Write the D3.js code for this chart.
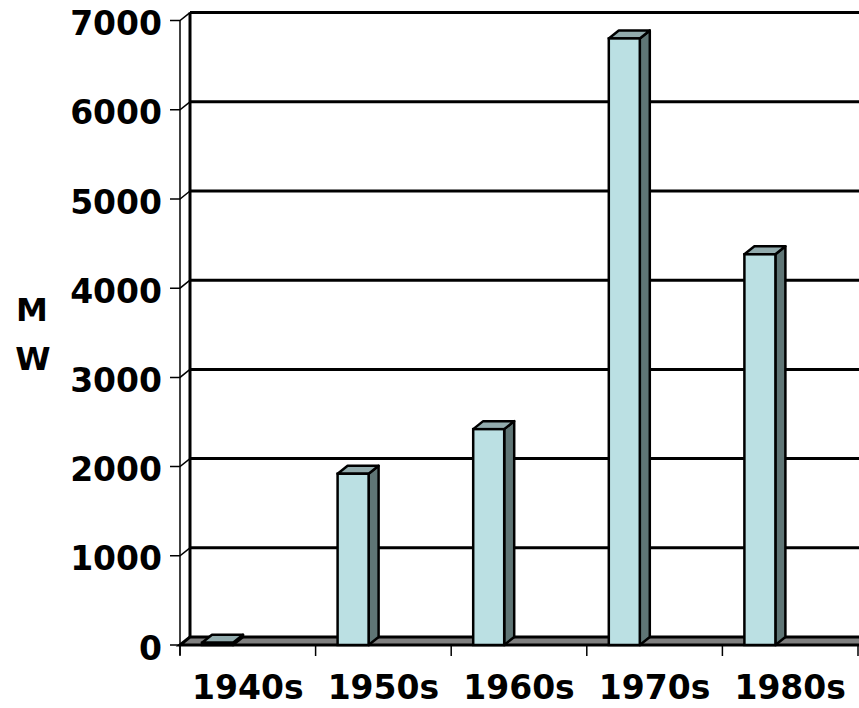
<!DOCTYPE html>
<html>
<head>
<meta charset="utf-8">
<script src="https://cdn.jsdelivr.net/npm/d3@7"></script>
<style>
  body { margin: 0; background: #fff; }
  text { font-family: "DejaVu Sans", Verdana, sans-serif; font-weight: bold; fill: #000; }
</style>
</head>
<body>
<script>
const decades = ["1940s", "1950s", "1960s", "1970s", "1980s"];
const megawatts = [25, 1920, 2420, 6800, 4380];
const yTicks = [0, 1000, 2000, 3000, 4000, 5000, 6000, 7000];

const width = 859, height = 708;
const dx = 10, dy = 8; // depth of the 3d box

const svg = d3.select("body").append("svg")
  .attr("width", width)
  .attr("height", height);

const x = d3.scaleBand().domain(decades).range([180, 858]);
const y = d3.scaleLinear().domain([0, 7000]).range([645, 20.6]);

const x0 = x.range()[0], x1 = width + 20;

// back wall gridlines + side wall diagonals + ticks
yTicks.forEach(t => {
  const yf = y(t);
  if (t > 0) {
    svg.append("line")
      .attr("x1", x0 + dx).attr("x2", x1)
      .attr("y1", yf - dy).attr("y2", yf - dy)
      .attr("stroke", "#000").attr("stroke-width", 3);
  }
  svg.append("path")
    .attr("d", `M${x0 - 10},${yf}H${x0}L${x0 + dx},${yf - dy}`)
    .attr("fill", "none").attr("stroke", "#000").attr("stroke-width", 1.5);
  svg.append("text")
    .attr("x", 162).attr("y", yf + 3)
    .attr("text-anchor", "end")
    .attr("dominant-baseline", "central")
    .attr("font-size", 33)
    .text(t);
});

// back wall left edge and front axis line
svg.append("line")
  .attr("x1", x0 + dx).attr("x2", x0 + dx)
  .attr("y1", y(7000) - dy).attr("y2", y(0) - dy)
  .attr("stroke", "#000").attr("stroke-width", 3);
svg.append("line")
  .attr("x1", x0).attr("x2", x0)
  .attr("y1", y(7000)).attr("y2", y(0) + 10)
  .attr("stroke", "#000").attr("stroke-width", 1.5);

// floor
svg.append("path")
  .attr("d", `M${x0},${y(0)}L${x0 + dx},${y(0) - dy}H${x1}V${y(0)}Z`)
  .attr("fill", "#808080").attr("stroke", "#000").attr("stroke-width", 3);

// category ticks
d3.range(decades.length + 1).forEach(i => {
  const tx = x0 + i * x.step();
  svg.append("line")
    .attr("x1", tx).attr("x2", tx)
    .attr("y1", y(0)).attr("y2", y(0) + 11)
    .attr("stroke", "#000").attr("stroke-width", 1.5);
});

// bars
const bw = 31;
const bars = svg.selectAll("g.bar").data(decades).join("g").attr("class", "bar");
bars.each(function(d, i) {
  const g = d3.select(this);
  const bx = x(d) + 22;
  const top = y(megawatts[i]), base = y(0);
  g.append("path") // side
    .attr("d", `M${bx + bw},${base}V${top}L${bx + bw + dx},${top - dy}V${base - dy}Z`)
    .attr("fill", "#5f7575").attr("stroke", "#000").attr("stroke-width", 2.5).attr("stroke-linejoin", "round");
  g.append("path") // top
    .attr("d", `M${bx},${top}L${bx + dx},${top - dy}H${bx + bw + dx}L${bx + bw},${top}Z`)
    .attr("fill", "#92abad").attr("stroke", "#000").attr("stroke-width", 2.5).attr("stroke-linejoin", "round");
  g.append("rect") // front
    .attr("x", bx).attr("y", top)
    .attr("width", bw).attr("height", base - top)
    .attr("fill", "#bbe0e3").attr("stroke", "#000").attr("stroke-width", 2.5);
});

// category labels
svg.selectAll("text.cat").data(decades).join("text")
  .attr("class", "cat")
  .attr("x", d => x(d) + x.bandwidth() / 2)
  .attr("y", 699)
  .attr("text-anchor", "middle")
  .attr("font-size", 33)
  .text(d => d);

// axis title, stacked letters
svg.append("text").attr("x", 32).attr("y", 321).attr("text-anchor", "middle").attr("font-size", 32).text("M");
svg.append("text").attr("x", 33).attr("y", 370).attr("text-anchor", "middle").attr("font-size", 32).text("W");
</script>
</body>
</html>
